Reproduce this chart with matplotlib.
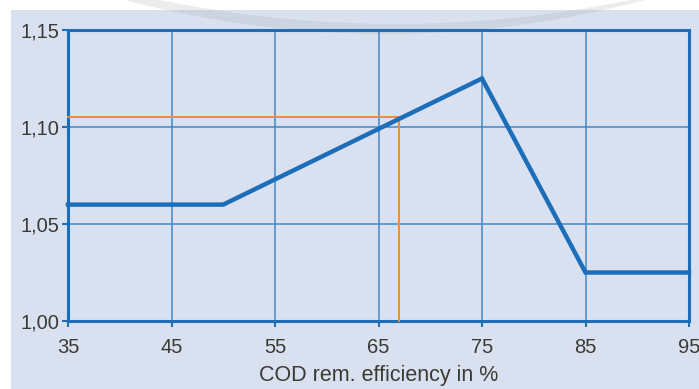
import matplotlib

matplotlib.use("Agg")

import matplotlib.pyplot as plt
import numpy as np
from matplotlib.patches import Polygon, Rectangle
from matplotlib.ticker import FuncFormatter

# Data
efficiency = [35, 50, 75, 85, 95]
factor = [1.06, 1.06, 1.125, 1.025, 1.025]
read_x = 67
read_y = 1.105
x_ticks = [35, 45, 55, 65, 75, 85, 95]
y_ticks = [1.00, 1.05, 1.10, 1.15]

BLUE = "#1c6eb9"
GRID = "#3d85c6"
ORANGE = "#f08a3c"
TEXT = "#3b3a33"
BG = "#d9e0f0"

plt.rcParams["font.family"] = ["Liberation Sans", "DejaVu Sans"]

W, H = 699, 389
fig = plt.figure(figsize=(W / 100, H / 100), dpi=100, facecolor="white")

# background panel + decorative arc
bg = fig.add_axes([0, 0, 1, 1], zorder=0)
bg.set_xlim(0, W)
bg.set_ylim(H, 0)
bg.axis("off")
bg.add_patch(Rectangle((11, 10), W - 11, H - 10, facecolor=BG, edgecolor="none"))
xs_lo = np.linspace(125, 645, 80)
lo = 34 * (1 - ((xs_lo - 385) / 260) ** 2)
xs_hi = np.linspace(645, 125, 80)
hi = 24 * (1 - ((xs_hi - 395) / 235) ** 2)
hi = np.clip(hi, 0, None)
pts = np.column_stack([np.concatenate([xs_lo, xs_hi]), np.concatenate([lo, hi])])
bg.add_patch(Polygon(pts, closed=True, facecolor="#9aa0a8", edgecolor="none", alpha=0.2))

# main axes
ax = fig.add_axes([68 / W, 1 - 321 / H, (689 - 68) / W, (321 - 30) / H], zorder=1)
ax.set_facecolor("none")
ax.set_xlim(35, 95)
ax.set_ylim(1.00, 1.15)
ax.set_xticks(x_ticks)
ax.set_yticks(y_ticks)
ax.yaxis.set_major_formatter(FuncFormatter(lambda v, _: f"{v:.2f}".replace(".", ",")))

ax.grid(True, color=GRID, linewidth=1.4, alpha=0.75)
ax.set_axisbelow(True)
for sp in ax.spines.values():
    sp.set_color(BLUE)
    sp.set_linewidth(2.2)

ax.tick_params(axis="both", colors=BLUE, length=4, width=1.5, direction="out",
               labelcolor=TEXT, labelsize=14.5)
ax.tick_params(axis="x", pad=8)
ax.tick_params(axis="y", pad=2)

# orange reading lines
ax.plot([35, read_x, read_x], [read_y, read_y, 1.00], color=ORANGE, linewidth=1.4,
        zorder=3, clip_on=False)

ax.plot(efficiency, factor, color=BLUE, linewidth=3.2, zorder=4,
        solid_joinstyle="miter", clip_on=False)

ax.set_xlabel("COD rem. efficiency in %", color=TEXT, fontsize=15.5, labelpad=6)

fig.savefig("out.png", dpi=100, facecolor="white")
